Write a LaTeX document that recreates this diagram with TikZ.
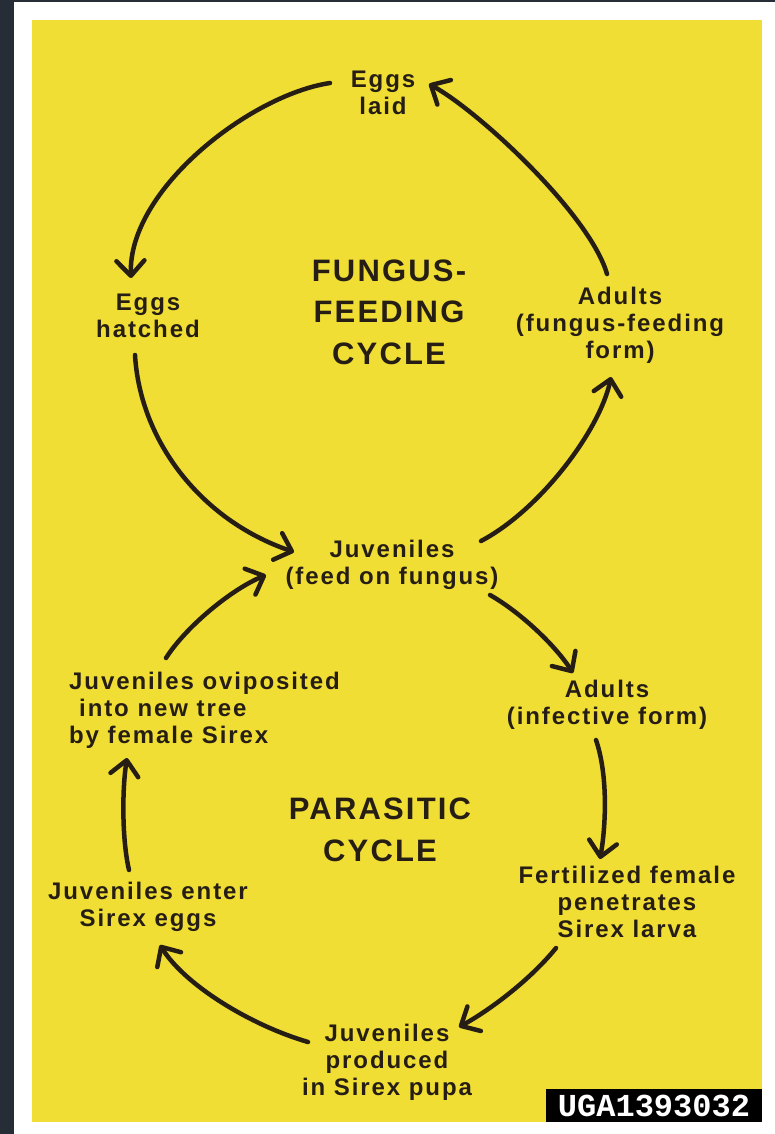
\documentclass[tikz,border=0pt]{standalone}
\usepackage{fontspec}
\usetikzlibrary{arrows.meta}
\newfontfamily\labfont{Liberation Sans}[LetterSpace=8]
\newfontfamily\titfont{Liberation Sans}[LetterSpace=7]
\newfontfamily\tagfont{Liberation Mono}
\definecolor{bgyellow}{RGB}{240,222,52}
\definecolor{ink}{RGB}{38,30,20}
\definecolor{framedark}{RGB}{38,45,54}
\begin{document}
\begin{tikzpicture}[x=1pt,y=-1pt,
  lab/.style={font=\labfont\bfseries\fontsize{24}{27}\selectfont, text=ink, align=center, inner sep=0pt},
  ttl/.style={font=\titfont\bfseries\fontsize{31}{41.5}\selectfont, text=ink, align=center, inner sep=0pt},
  arr/.style={draw=ink, line width=4.5pt, line cap=round,
    -{Straight Barb[length=15pt,width=28pt,line cap=round,line join=round]}}]
\useasboundingbox (0,0) rectangle (775,1134);
\fill[white] (0,0) rectangle (775,1134);
\fill[framedark] (0,0) rectangle (14,1134);
\fill[framedark] (0,0) rectangle (775,2);
\fill[bgyellow] (32,20) rectangle (762,1122);

% nodes
\node[lab] (eggslaid) at (383,93) {Eggs\\laid};
\node[lab] (hatched) at (148,316) {Eggs\\hatched};
\node[ttl] (fungus) at (389,312) {FUNGUS-\\FEEDING\\CYCLE};
\node[lab] (adultsF) at (620,325) {Adults\\(fungus-feeding\\form)};
\node[lab] (juv) at (392,565) {Juveniles\\(feed on fungus)};
\node[lab, align=left] (ovip) at (204.5,710) {Juveniles oviposited\\\hspace*{10pt}into new tree\\by female Sirex};
\node[lab] (adultsI) at (607,705) {Adults\\(infective form)};
\node[ttl] (parasitic) at (380,830) {PARASITIC\\CYCLE};
\node[lab] (enter) at (148,907) {Juveniles enter\\Sirex eggs};
\node[lab] (fert) at (627,902) {Fertilized female\\penetrates\\Sirex larva};
\node[lab] (produced) at (387,1062) {Juveniles\\produced\\in Sirex pupa};
\node[fill=black, text=white, inner sep=0pt, minimum width=216pt, minimum height=33pt,
  font=\tagfont\bfseries\fontsize{32}{32}\selectfont] (tag) at (654,1105.5) {UGA1393032};

% connectors
\draw[arr] ([shift={(-53,-10)}]eggslaid.center) .. controls (250,95) and (128,190) .. ([shift={(-17,-38)}]hatched.center);
\draw[arr] ([shift={(-13,-51)}]adultsF.center) .. controls (590,215) and (480,112) .. ([shift={(46,-9)}]eggslaid.center);
\draw[arr] ([shift={(-13,39)}]hatched.center) .. controls (140,440) and (200,520) .. ([shift={(-98,-13)}]juv.center);
\draw[arr] ([shift={(89,-24)}]juv.center) .. controls (540,510) and (600,430) .. ([shift={(-9,52)}]adultsF.center);
\draw[arr] ([shift={(-38.5,-52)}]ovip.center) .. controls (185,628) and (230,590) .. ([shift={(-126,10)}]juv.center);
\draw[arr] ([shift={(98,30)}]juv.center) .. controls (520,612) and (555,645) .. ([shift={(-34,-32)}]adultsI.center);
\draw[arr] ([shift={(-11,35)}]adultsI.center) .. controls (608,775) and (606,825) .. ([shift={(-27,-43)}]fert.center);
\draw[arr] ([shift={(-71,46)}]fert.center) .. controls (530,980) and (490,1010) .. ([shift={(72,-35)}]produced.center);
\draw[arr] ([shift={(-79,-20)}]produced.center) .. controls (250,1025) and (185,985) .. ([shift={(12,38)}]enter.center);
\draw[arr] ([shift={(-19,-37)}]enter.center) .. controls (122,840) and (122,790) .. ([shift={(-77.5,48)}]ovip.center);
\end{tikzpicture}
\end{document}
